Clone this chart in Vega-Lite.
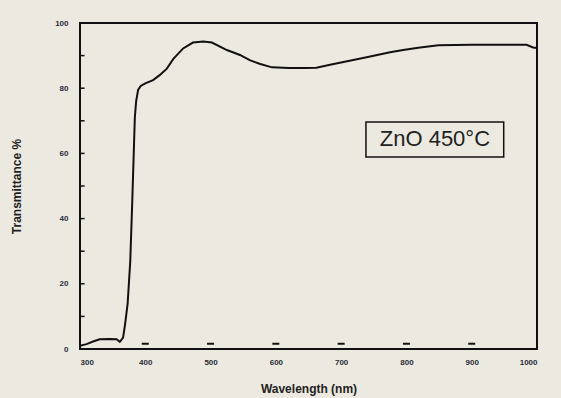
{
  "$schema": "https://vega.github.io/schema/vega-lite/v6.json",
  "width": 457,
  "height": 326,
  "autosize": "none",
  "padding": {"left": 80, "top": 23, "right": 24, "bottom": 49},
  "background": "#ECEAE0",
  "config": {
    "font": "Liberation Sans",
    "view": {"stroke": "#111", "strokeWidth": 2},
    "axis": {"grid": false, "domain": false, "ticks": false, "labelFont": "Liberation Sans", "labelFontSize": 8, "labelFontWeight": "bold", "labelColor": "#2a2a3a", "titleFont": "Liberation Sans", "titleFontSize": 12, "titleFontWeight": "bold", "titleColor": "#222"}
  },
  "datasets": {
    "curve": [
      {"wavelength": 300, "T": 1.0},
      {"wavelength": 310, "T": 1.5},
      {"wavelength": 320, "T": 2.3},
      {"wavelength": 330, "T": 3.0},
      {"wavelength": 345, "T": 3.1},
      {"wavelength": 356, "T": 3.0},
      {"wavelength": 361, "T": 2.2},
      {"wavelength": 366, "T": 3.5},
      {"wavelength": 369, "T": 7.5},
      {"wavelength": 373, "T": 14},
      {"wavelength": 377, "T": 27},
      {"wavelength": 380, "T": 45},
      {"wavelength": 382, "T": 58},
      {"wavelength": 384, "T": 71},
      {"wavelength": 386, "T": 76},
      {"wavelength": 389, "T": 79.5},
      {"wavelength": 393, "T": 80.7},
      {"wavelength": 400, "T": 81.5},
      {"wavelength": 412, "T": 82.5},
      {"wavelength": 422, "T": 84},
      {"wavelength": 433, "T": 86},
      {"wavelength": 443, "T": 89},
      {"wavelength": 458, "T": 92.2},
      {"wavelength": 473, "T": 94},
      {"wavelength": 489, "T": 94.3},
      {"wavelength": 502, "T": 94},
      {"wavelength": 525, "T": 91.7},
      {"wavelength": 545, "T": 90.2},
      {"wavelength": 560, "T": 88.6},
      {"wavelength": 575, "T": 87.5},
      {"wavelength": 594, "T": 86.4},
      {"wavelength": 620, "T": 86.2},
      {"wavelength": 645, "T": 86.2},
      {"wavelength": 662, "T": 86.3},
      {"wavelength": 683, "T": 87.2},
      {"wavelength": 713, "T": 88.4},
      {"wavelength": 739, "T": 89.5},
      {"wavelength": 775, "T": 91},
      {"wavelength": 795, "T": 91.7},
      {"wavelength": 818, "T": 92.4},
      {"wavelength": 849, "T": 93.2},
      {"wavelength": 900, "T": 93.3},
      {"wavelength": 950, "T": 93.3},
      {"wavelength": 984, "T": 93.3},
      {"wavelength": 994, "T": 92.5},
      {"wavelength": 1000, "T": 92.3}
    ],
    "xticks": [
      {"wavelength": 400}, {"wavelength": 500}, {"wavelength": 600}, {"wavelength": 700}, {"wavelength": 800}, {"wavelength": 900}
    ],
    "yticks": [
      {"T": 10}, {"T": 20}, {"T": 30}, {"T": 40}, {"T": 50}, {"T": 60}, {"T": 70}, {"T": 80}, {"T": 90}
    ],
    "label": [
      {"x": 738, "x2": 949, "y": 58.9, "y2": 69.6, "xc": 843.6, "yc": 64.3, "text": "ZnO  450°C"}
    ]
  },
  "layer": [
    {
      "data": {"name": "curve"},
      "mark": {"type": "line", "color": "#111", "strokeWidth": 2},
      "encoding": {
        "x": {"field": "wavelength", "type": "quantitative", "title": "Wavelength (nm)",
              "scale": {"domain": [300, 1000], "nice": false},
              "axis": {"values": [300, 400, 500, 600, 700, 800, 900, 1000], "format": "d", "labelPadding": 9, "titlePadding": 17}},
        "y": {"field": "T", "type": "quantitative", "title": "Transmittance %",
              "scale": {"domain": [0, 100], "nice": false},
              "axis": {"values": [0, 20, 40, 60, 80, 100], "labelPadding": 12, "titlePadding": 31}}
      }
    },
    {
      "data": {"name": "yticks"},
      "mark": {"type": "rule", "strokeWidth": 1.5, "color": "#111"},
      "encoding": {
        "y": {"field": "T", "type": "quantitative"},
        "x": {"datum": 300},
        "x2": {"datum": 307}
      }
    },
    {
      "data": {"name": "label"},
      "mark": {"type": "rect", "fill": null, "fillOpacity": 0, "stroke": "#111", "strokeWidth": 1.5},
      "encoding": {
        "x": {"field": "x", "type": "quantitative"},
        "x2": {"field": "x2"},
        "y": {"field": "y", "type": "quantitative"},
        "y2": {"field": "y2"}
      }
    },
    {
      "data": {"name": "label"},
      "mark": {"type": "text", "fontSize": 22, "color": "#222", "font": "Liberation Sans", "align": "center", "baseline": "middle"},
      "encoding": {
        "x": {"field": "xc", "type": "quantitative"},
        "y": {"field": "yc", "type": "quantitative"},
        "text": {"field": "text"}
      }
    },
    {
      "data": {"name": "xticks"},
      "mark": {"type": "tick", "orient": "horizontal", "thickness": 2, "size": 7, "color": "#111", "opacity": 1, "yOffset": -2},
      "encoding": {
        "x": {"field": "wavelength", "type": "quantitative"},
        "y": {"datum": 1}
      }
    }
  ]
}
